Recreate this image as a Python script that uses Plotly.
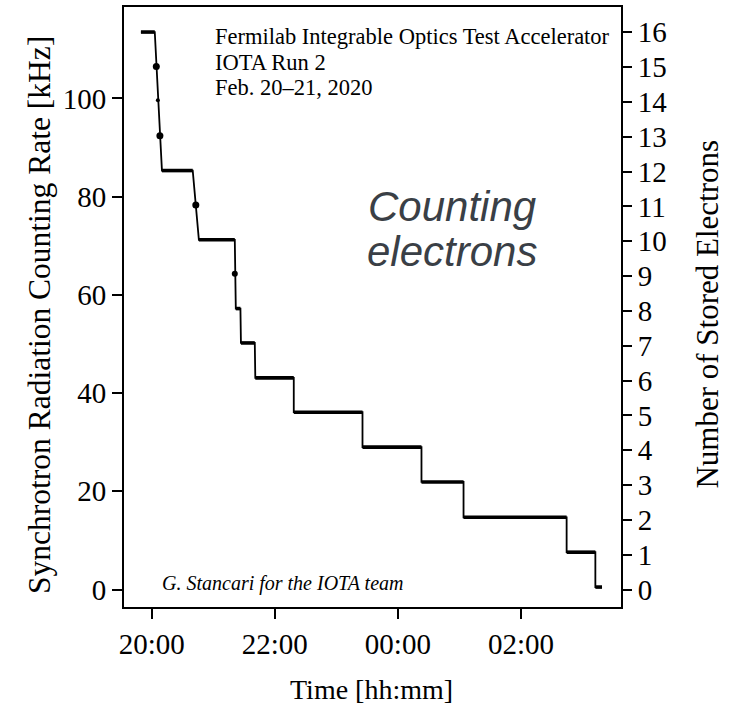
import plotly.graph_objects as go

# --- data ---
plateau_start = ["2020-02-20 19:49:30", "2020-02-20 20:10:00", "2020-02-20 20:46:00",
                 "2020-02-20 21:22:00", "2020-02-20 21:27:00", "2020-02-20 21:41:00",
                 "2020-02-20 22:18:30", "2020-02-20 23:25:30", "2020-02-21 00:23:00",
                 "2020-02-21 01:04:00", "2020-02-21 02:44:30", "2020-02-21 03:12:30"]
plateau_end = ["2020-02-20 20:03:00", "2020-02-20 20:40:00", "2020-02-20 21:21:00",
               "2020-02-20 21:26:30", "2020-02-20 21:40:30", "2020-02-20 22:18:30",
               "2020-02-20 23:25:30", "2020-02-21 00:23:00", "2020-02-21 01:04:00",
               "2020-02-21 02:44:30", "2020-02-21 03:12:30", "2020-02-21 03:19:00"]
plateau_rate = [113.5, 85.3, 71.2, 57.2, 50.2, 43.1, 36.1, 29.0, 21.9, 14.7, 7.6, 0.5]

transient_time = ["2020-02-20 20:04:30", "2020-02-20 20:06:00", "2020-02-20 20:08:00",
                  "2020-02-20 20:43:00", "2020-02-20 21:21:00"]
transient_rate = [106.5, 99.6, 92.4, 78.3, 64.3]
transient_size = [7, 4, 7, 7, 6]

electrons = [16, 12, 10, 8, 7, 6, 5, 4, 3, 2, 1, 0]

x_ticks = ["2020-02-20 20:00", "2020-02-20 22:00", "2020-02-21 00:00", "2020-02-21 02:00"]
x_tick_labels = ["20:00", "22:00", "00:00", "02:00"]
left_ticks = [0, 20, 40, 60, 80, 100]
right_ticks = list(range(0, 17))

KHZ_PER_ELECTRON = 7.09
y_range = [-3.56, 118.6]

# continuous trace (thin verticals)
line_x, line_y = [], []
for s, e, r in zip(plateau_start, plateau_end, plateau_rate):
    line_x += [s, e]
    line_y += [r, r]

# thick plateaus
thick_x, thick_y = [], []
for s, e, r in zip(plateau_start, plateau_end, plateau_rate):
    thick_x += [s, e, None]
    thick_y += [r, r, None]

fig = go.Figure()
fig.add_trace(go.Scatter(x=line_x, y=line_y, mode="lines",
                         line=dict(color="black", width=1.8), hoverinfo="skip",
                         showlegend=False))
fig.add_trace(go.Scatter(x=thick_x, y=thick_y, mode="lines",
                         line=dict(color="black", width=3.6), hoverinfo="skip",
                         showlegend=False))
fig.add_trace(go.Scatter(x=transient_time, y=transient_rate, mode="markers",
                         marker=dict(color="black", size=transient_size, opacity=1,
                                     line=dict(width=0)),
                         hoverinfo="skip", showlegend=False))
fig.add_trace(go.Scatter(x=plateau_start, y=electrons, mode="markers", yaxis="y2",
                         marker=dict(opacity=0), hoverinfo="skip", showlegend=False))

serif = "Liberation Serif"
tick_font = dict(family=serif, size=29, color="black")
fig.update_layout(
    width=742, height=709,
    margin=dict(l=124, r=121, t=7, b=102, autoexpand=False),
    paper_bgcolor="white", plot_bgcolor="white",
    font=dict(family=serif, size=22, color="black"),
    xaxis=dict(
        type="date",
        range=["2020-02-20 19:33:00", "2020-02-21 03:37:30"],
        tickvals=x_ticks, ticktext=x_tick_labels, tickfont=tick_font,
        ticks="outside", ticklen=10, tickwidth=1.5, tickcolor="black",
        showline=True, linecolor="black", linewidth=2, mirror=True,
        showgrid=False, zeroline=False, automargin=False,
    ),
    yaxis=dict(
        range=y_range, tickvals=left_ticks, tickfont=tick_font,
        ticks="outside", ticklen=10, tickwidth=1.5, tickcolor="black",
        showline=True, linecolor="black", linewidth=2, mirror=True,
        showgrid=False, zeroline=False, automargin=False,
    ),
    yaxis2=dict(
        overlaying="y", side="right",
        range=[y_range[0] / KHZ_PER_ELECTRON, y_range[1] / KHZ_PER_ELECTRON],
        tickvals=right_ticks, tickfont=tick_font,
        ticks="outside", ticklen=10, tickwidth=1.5, tickcolor="black",
        showline=False, showgrid=False, zeroline=False, automargin=False,
    ),
)

# axis titles
fig.add_annotation(xref="paper", yref="paper", x=-0.170, y=0.486, xanchor="center", yanchor="middle",
                   text="Synchrotron Radiation Counting Rate [kHz]", textangle=-90, showarrow=False,
                   font=dict(family=serif, size=31.5, color="black"))
fig.add_annotation(xref="paper", yref="paper", x=1.175, y=0.489, xanchor="center", yanchor="middle",
                   text="Number of Stored Electrons", textangle=-90, showarrow=False,
                   font=dict(family=serif, size=31, color="black"))
fig.add_annotation(xref="paper", yref="paper", x=0.498, y=-0.138, xanchor="center", yanchor="middle",
                   text="Time [hh:mm]", showarrow=False,
                   font=dict(family=serif, size=28, color="black"))

# header text
header_lines = ["Fermilab Integrable Optics Test Accelerator", "IOTA Run 2", "Feb. 20\u201321, 2020"]
header_y = [0.951, 0.9075, 0.866]
for txt, yy in zip(header_lines, header_y):
    fig.add_annotation(xref="paper", yref="paper", x=0.179, y=yy, xanchor="left", yanchor="middle",
                       text=txt, showarrow=False, align="left",
                       font=dict(family=serif, size=22.5, color="black"))

big_lines = ["<i>Counting</i>", "<i>electrons</i>"]
big_y = [0.668, 0.593]
for txt, yy in zip(big_lines, big_y):
    fig.add_annotation(xref="paper", yref="paper", x=0.660, y=yy, xanchor="center", yanchor="middle",
                       text=txt, showarrow=False,
                       font=dict(family="Liberation Sans", size=42, color="#3a3f46"))

fig.add_annotation(xref="paper", yref="paper", x=0.072, y=0.04, xanchor="left", yanchor="middle",
                   text="<i>G. Stancari for the IOTA team</i>", showarrow=False,
                   font=dict(family=serif, size=20, color="black"))

fig.write_html("out.html")
